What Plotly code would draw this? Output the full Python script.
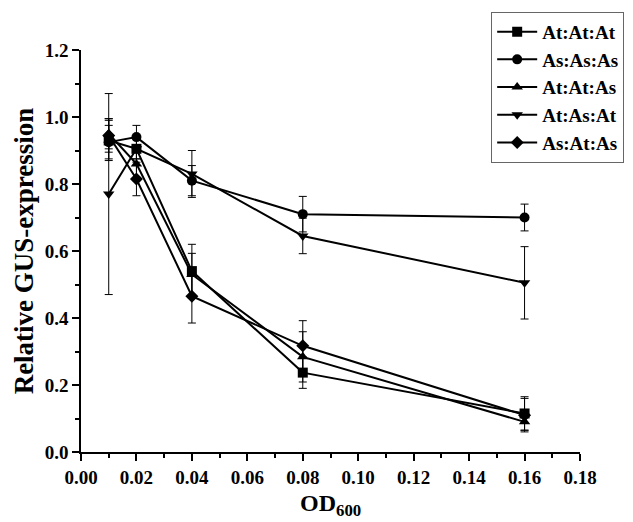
import plotly.graph_objects as go

od600 = [0.01, 0.02, 0.04, 0.08, 0.16]

series_names = ["At:At:At", "As:As:As", "At:At:As", "At:As:At", "As:At:As"]
at_at_at = [0.93, 0.905, 0.54, 0.237, 0.115]
as_as_as = [0.925, 0.94, 0.81, 0.71, 0.70]
at_at_as = [0.95, 0.86, 0.53, 0.284, 0.09]
at_as_at = [0.77, 0.905, 0.83, 0.645, 0.505]
as_at_as = [0.945, 0.815, 0.465, 0.317, 0.11]

err_at_at_at = [0.06, 0.03, 0.08, 0.047, 0.05]
err_as_as_as = [0.05, 0.035, 0.045, 0.053, 0.04]
err_at_at_as = [0.045, 0.05, 0.063, 0.075, 0.025]
err_at_as_at = [0.30, 0.03, 0.07, 0.053, 0.108]
err_as_at_as = [0.05, 0.05, 0.08, 0.075, 0.05]

symbols = ["square", "circle", "triangle-up", "triangle-down", "diamond"]
values = [at_at_at, as_as_as, at_at_as, at_as_at, as_at_as]
errors = [err_at_at_at, err_as_as_as, err_at_at_as, err_at_as_at, err_as_at_as]

fig = go.Figure()
for name, yv, ev, sym in zip(series_names, values, errors, symbols):
    fig.add_trace(go.Scatter(
        x=od600, y=yv, name=name, mode="lines+markers",
        line=dict(color="black", width=2),
        marker=dict(symbol=sym, size=10, color="black"),
        error_y=dict(type="data", array=ev, visible=True, color="black",
                     thickness=1, width=4),
    ))

font_family = "Liberation Serif, Times New Roman, serif"
fig.update_layout(
    width=633, height=522,
    margin=dict(l=73, r=61, t=42, b=78, autoexpand=False),
    paper_bgcolor="white", plot_bgcolor="white",
    font=dict(family=font_family, color="black"),
    showlegend=True,
    legend=dict(
        x=0.822, y=1.095, xanchor="left", yanchor="top",
        bordercolor="#666666", borderwidth=1,
        font=dict(family=font_family, size=19, color="black", weight="bold"),
        tracegroupgap=0, itemwidth=40,
    ),
    xaxis=dict(
        range=[0, 0.18], tickvals=[0, 0.02, 0.04, 0.06, 0.08, 0.10, 0.12, 0.14, 0.16, 0.18],
        ticktext=["0.00", "0.02", "0.04", "0.06", "0.08", "0.10", "0.12", "0.14", "0.16", "0.18"],
        ticks="outside", ticklen=7, tickwidth=1.5, tickcolor="black",
        minor=dict(dtick=0.01, ticks="outside", ticklen=4, tickwidth=1.5, tickcolor="black"),
        showline=True, linecolor="black", linewidth=1.5,
        showgrid=False, zeroline=False,
        tickfont=dict(family=font_family, size=19, color="black", weight="bold"),
    ),
    yaxis=dict(
        range=[0, 1.2], tickvals=[0, 0.2, 0.4, 0.6, 0.8, 1.0, 1.2],
        ticktext=["0.0", "0.2", "0.4", "0.6", "0.8", "1.0", "1.2"],
        ticks="outside", ticklen=7, tickwidth=1.5, tickcolor="black",
        minor=dict(dtick=0.1, ticks="outside", ticklen=4, tickwidth=1.5, tickcolor="black"),
        showline=True, linecolor="black", linewidth=1.5,
        showgrid=False, zeroline=False,
        tickfont=dict(family=font_family, size=19, color="black", weight="bold"),
        title=dict(text="Relative GUS-expression", standoff=3,
                   font=dict(family=font_family, size=27, color="black", weight="bold")),
    ),
    annotations=[dict(
        text="<b>OD<sub>600</sub></b>", xref="paper", yref="paper",
        x=0.5, y=-0.09, xanchor="center", yanchor="top", showarrow=False,
        font=dict(family=font_family, size=24, color="black", weight="bold"),
    )],
)

fig.write_html("out.html")
